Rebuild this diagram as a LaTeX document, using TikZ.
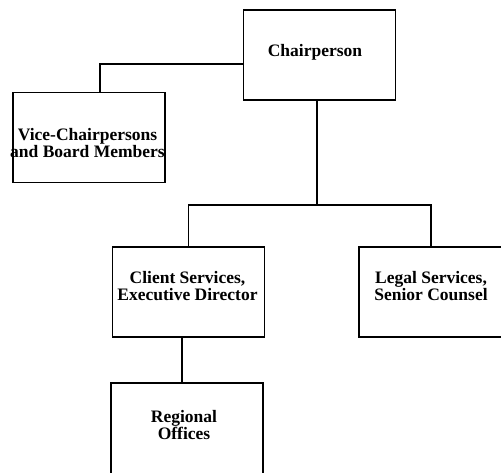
\documentclass[tikz,border=0pt]{standalone}
\usepackage{fontspec}
\setmainfont{Liberation Serif}
\begin{document}
\begin{tikzpicture}[x=1pt, y=-1pt,
	orgbox/.style={draw, line width=1.6pt, minimum width=152pt, minimum height=90pt, inner sep=0pt},
	orglabel/.style={align=center, inner sep=0pt, font=\fontsize{17.5}{17}\selectfont\bfseries},
	link/.style={line width=1.6pt}]
	% Page area (the lower and right boxes run off the edge)
	\useasboundingbox (0,0) rectangle (501,472);
	\clip (0,0) rectangle (501,472);
	
	% Boxes of the chart
	\node[orgbox] (chair) at (319.5,55) {};
	\node[orgbox] (vice) at (89,137.5) {};
	\node[orgbox] (client) at (188.5,292) {};
	\node[orgbox, minimum width=160pt] (legal) at (439,292) {};
	\node[orgbox, minimum height=95pt] (regional) at (187,430.5) {};
	
	% Texts in the boxes
	\node[orglabel] (chairtext) at (315,52) {Chairperson};
	\node[orglabel] (vicetext) at (87.5,143.5) {Vice-Chairpersons\\and Board Members};
	\node[orglabel] (clienttext) at (187.5,286.5) {Client Services,\\Executive Director};
	\node[orglabel] (legaltext) at (431,286.5) {Legal Services,\\Senior Counsel};
	\node[orglabel] (regionaltext) at (184,425.5) {Regional\\Offices};
	
	% Connectors
	\coordinate (bus) at (317,205);
	\draw[link] ([yshift=-9pt]chair.west) -| ([xshift=11pt]vice.north);
	\draw[link] ([xshift=-2.5pt]chair.south) -- (bus);
	\draw[link] (client.north) |- (bus) -| ([xshift=-8pt]legal.north);
	\draw[link] ([xshift=-6.5pt]client.south) -- ([xshift=-5pt]regional.north);
\end{tikzpicture}
\end{document}
